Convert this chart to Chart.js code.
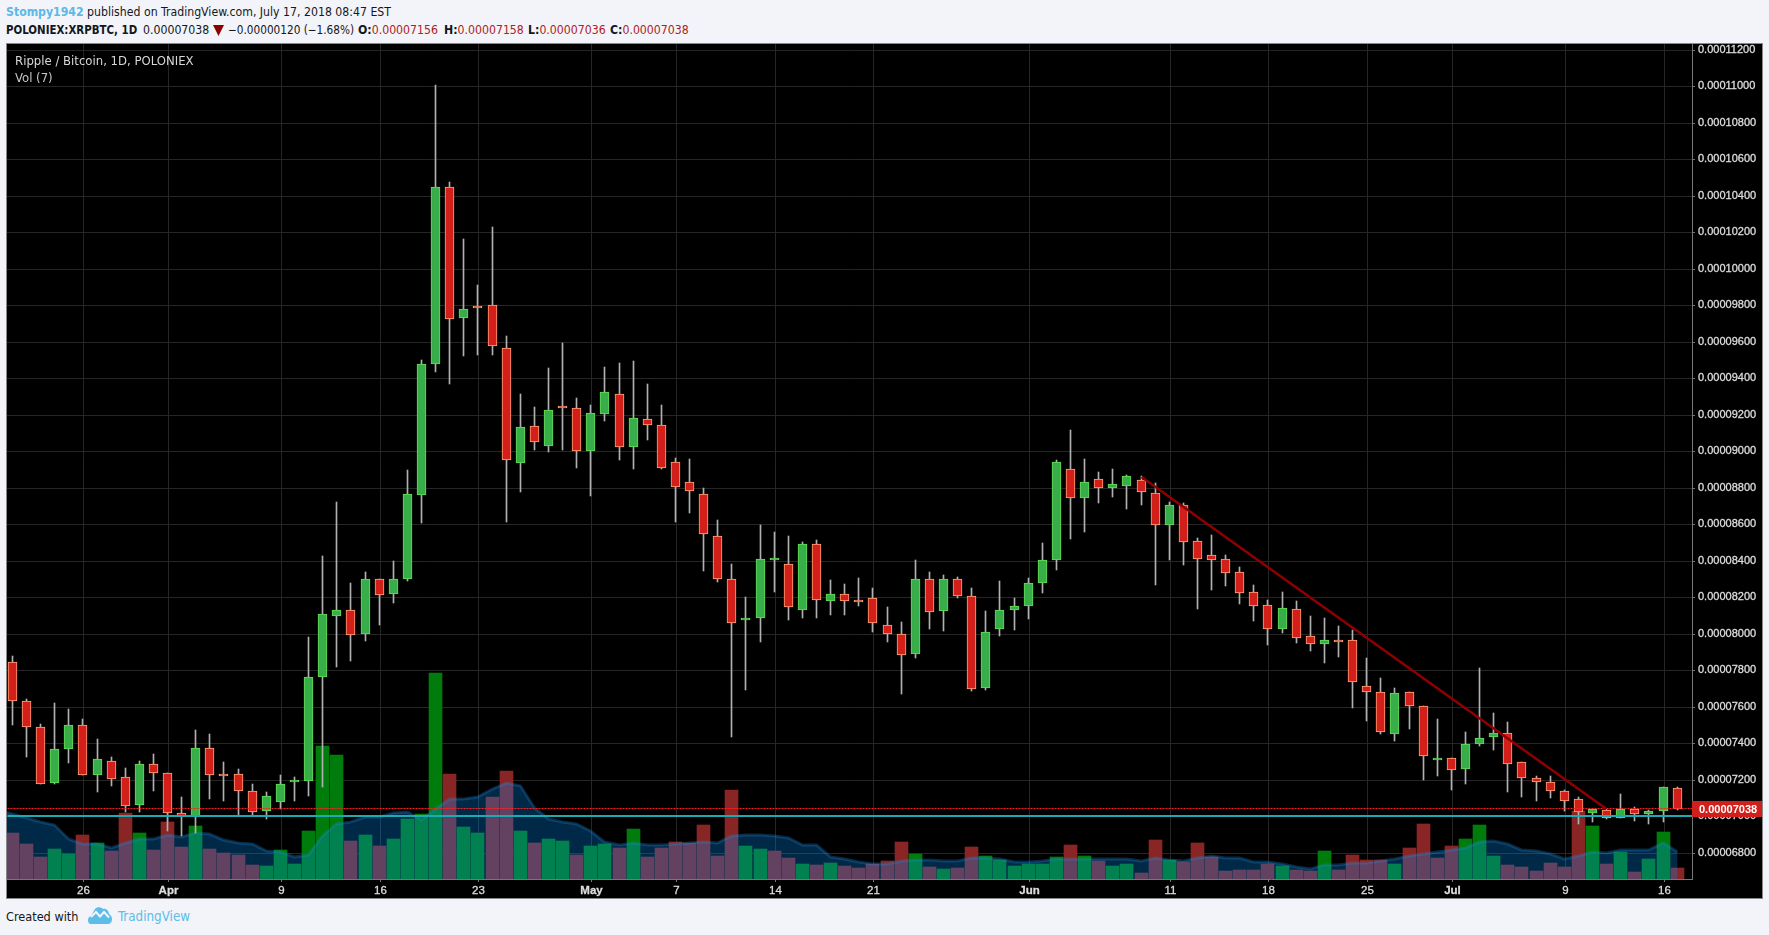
<!DOCTYPE html>
<html>
<head>
<meta charset="utf-8">
<title>XRPBTC 1D</title>
<script src="https://cdn.jsdelivr.net/npm/chart.js@4/dist/chart.umd.js"></script>
<style>
    html, body { margin: 0; padding: 0; background: #f2f4f9; overflow: hidden; }
    body { width: 1769px; height: 935px; position: relative; font-family: "DejaVu Sans Condensed", "Liberation Sans", Arial, sans-serif; color: #131722; }
    .abs { position: absolute; white-space: pre; }
    .head { font-size: 12.2px; line-height: 16px; }
    .author { color: #5cb8e6; font-weight: bold; }
    .dn { color: #b02020; }
    #panel { position: absolute; left: 6px; top: 43px; width: 1755px; height: 854px; border: 1px solid #888; border-top-width: 1px; background: #000; }
    #chart { position: absolute; left: 0; top: 0; display: block; }
    .overlay { color: #d8d8d8; font-size: 13px; line-height: 16px; }
</style>
</head>
<body>
<div class="abs head" style="left:6px;top:4px"><span class="author">Stompy1942</span> published on TradingView.com, July 17, 2018 08:47 EST</div>
<div class="abs head" style="left:6px;top:22px;font-weight:bold;font-size:11.4px">POLONIEX:XRPBTC, 1D</div>
<div class="abs head" style="left:143px;top:22px">0.00007038</div>
<svg class="abs" style="left:213px;top:25px" width="11" height="11"><path d="M0 0H11L5.5 11Z" fill="#8b0000"/></svg>
<div class="abs head" style="left:228px;top:22px;font-size:11.7px">&minus;0.00000120 (&minus;1.68%)</div>
<div class="abs head" style="left:358px;top:22px"><b>O:</b><span class="dn">0.00007156</span></div>
<div class="abs head" style="left:444px;top:22px"><b>H:</b><span class="dn">0.00007158</span></div>
<div class="abs head" style="left:528px;top:22px"><b>L:</b><span class="dn">0.00007036</span></div>
<div class="abs head" style="left:610px;top:22px"><b>C:</b><span class="dn">0.00007038</span></div>

<div id="panel">
    <canvas id="chart" width="1755" height="854"></canvas>
    <div class="abs overlay" style="left:8px;top:9px">Ripple / Bitcoin, 1D, POLONIEX</div>
    <div class="abs overlay" style="left:8px;top:26px;color:#c4c4c4">Vol (7)</div>
</div>

<div class="abs" style="left:6px;top:909px;font-size:12.6px;line-height:16px">Created with</div>
<svg class="abs" style="left:88px;top:907px" width="24" height="17" viewBox="0 0 24 17">
    <path d="M3 17C0.5 17 0 14.5 0 13C0 11 1.5 9.5 3 9L7 2C9 -0.5 13 0 15 2C18 1 21 4 21 7C23 8 24 10 24 12.5C24 15 22 17 20 17Z" fill="#5cbde8"/>
    <path d="M3 10L8 5L12 9.5L16 5L21 10.5" fill="none" stroke="#f2f4f9" stroke-width="2"/>
</svg>
<div class="abs" style="left:118px;top:909px;font-size:13.3px;line-height:16px;color:#5cbde8">TradingView</div>

<script>
// prices are in satoshi (1e-8 BTC), one entry per daily candle from Mar 21
const opens = [
    7846, 7632, 7490, 7180, 7367, 7500, 7225, 7303, 7215, 7060,
    7286, 7238, 7017, 6996, 7374, 7221, 7232, 7138, 7026, 7077,
    7186, 7191, 7761, 8096, 8130, 7997, 8300, 8216, 8298, 8762,
    9476, 10450, 9729, 9787, 9800, 9566, 8938, 9137, 9031, 9238,
    9236, 9000, 9203, 9313, 9022, 9176, 9143, 8940, 8830, 8764,
    8533, 8297, 8075, 8086, 8405, 8384, 8130, 8494, 8179, 8220,
    8187, 8198, 8049, 8000, 7888, 8302, 8124, 8297, 8209, 7702,
    8026, 8130, 8152, 8278, 8405, 8901, 8745, 8846, 8800, 8811,
    8840, 8770, 8598, 8704, 8507, 8430, 8408, 8336, 8227, 8155,
    8027, 8133, 7985, 7945, 7968, 7968, 7716, 7683, 7450, 7683,
    7606, 7308, 7320, 7258, 7395, 7434, 7458, 7298, 7211, 7189,
    7139, 7095, 7016, 7035, 6991, 7040, 7011, 7027, 7156
];
const highs = [
    7876, 7640, 7505, 7623, 7589, 7535, 7425, 7327, 7264, 7305,
    7342, 7238, 7107, 7470, 7453, 7299, 7260, 7178, 7135, 7226,
    7215, 7984, 8424, 8719, 8276, 8336, 8300, 8401, 8895, 9502,
    11006, 10474, 10161, 9908, 10227, 9633, 9315, 9243, 9458, 9595,
    9293, 9254, 9463, 9485, 9496, 9370, 9254, 8963, 8958, 8799,
    8622, 8381, 8200, 8595, 8557, 8535, 8500, 8513, 8293, 8271,
    8304, 8249, 8145, 8062, 8403, 8337, 8320, 8309, 8249, 8123,
    8287, 8194, 8304, 8496, 8952, 9117, 8957, 8886, 8903, 8870,
    8865, 8827, 8723, 8717, 8525, 8541, 8432, 8366, 8267, 8184,
    8228, 8179, 8097, 8086, 8042, 8020, 7866, 7756, 7701, 7683,
    7606, 7531, 7320, 7460, 7811, 7564, 7514, 7298, 7223, 7223,
    7146, 7108, 7040, 7038, 7124, 7053, 7035, 7161, 7158
];
const lows = [
    7501, 7322, 7176, 7174, 7294, 7225, 7131, 7168, 7024, 7021,
    7140, 6921, 6893, 6906, 7094, 7082, 7009, 7006, 6983, 7039,
    7086, 7109, 7159, 7820, 7853, 7958, 8050, 8166, 8289, 8608,
    9432, 9366, 9520, 9525, 9525, 8614, 8778, 9009, 8998, 9004,
    8910, 8757, 9168, 8954, 8905, 9064, 8905, 8614, 8663, 8342,
    8284, 7436, 7691, 7954, 8229, 8075, 8086, 8086, 8103, 8103,
    8152, 8009, 7954, 7669, 7866, 8026, 8015, 8196, 7685, 7691,
    7987, 8020, 8081, 8223, 8350, 8518, 8557, 8716, 8749, 8683,
    8705, 8267, 8404, 8378, 8135, 8239, 8261, 8163, 8069, 7937,
    8003, 7948, 7904, 7838, 7871, 7591, 7520, 7450, 7410, 7476,
    7201, 7223, 7141, 7174, 7384, 7361, 7132, 7104, 7082, 7099,
    7031, 6956, 6967, 6984, 6989, 6976, 6956, 6971, 7036
];
const closes = [
    7632, 7488, 7176, 7369, 7500, 7225, 7314, 7202, 7054, 7286,
    7236, 7017, 7000, 7374, 7225, 7220, 7137, 7021, 7110, 7176,
    7188, 7763, 8110, 8130, 7992, 8300, 8211, 8300, 8763, 9478,
    10450, 9725, 9780, 9786, 9577, 8951, 9132, 9049, 9225, 9237,
    9000, 9209, 9324, 9022, 9181, 9141, 8910, 8802, 8784, 8544,
    8300, 8059, 8088, 8412, 8407, 8146, 8494, 8185, 8220, 8179,
    8174, 8059, 7998, 7883, 8297, 8119, 8297, 8207, 7696, 8011,
    8132, 8154, 8280, 8406, 8939, 8745, 8829, 8800, 8818, 8862,
    8778, 8593, 8704, 8505, 8411, 8406, 8335, 8225, 8153, 8027,
    8139, 7978, 7945, 7968, 7956, 7736, 7681, 7461, 7677, 7604,
    7330, 7320, 7253, 7397, 7430, 7458, 7286, 7211, 7187, 7139,
    7084, 7024, 7038, 6991, 7040, 7013, 7029, 7158, 7038
];
const volumes = [
    46, 35, 22, 30, 25, 44, 36, 28, 66, 46,
    29, 57, 32, 53, 30, 26, 24, 14, 13, 29,
    15, 48, 133, 124, 38, 44, 33, 40, 60, 65,
    206, 105, 52, 46, 82, 108, 48, 36, 40, 38,
    24, 33, 35, 31, 50, 22, 31, 37, 36, 54,
    23, 89, 33, 30, 28, 21, 15, 14, 16, 13,
    11, 15, 18, 37, 25, 12, 10, 11, 32, 23,
    19, 13, 15, 15, 22, 34, 23, 18, 13, 15,
    6, 39, 19, 17, 36, 22, 8, 9, 9, 15,
    13, 9, 8, 28, 9, 24, 19, 19, 15, 31,
    55, 21, 33, 40, 54, 23, 14, 12, 8, 16,
    12, 68, 53, 15, 27, 7, 20, 47, 11
];
const volumeUp = [
    0, 0, 0, 1, 1, 0, 1, 0, 0, 1,
    0, 0, 0, 1, 0, 0, 0, 0, 1, 1,
    1, 1, 1, 1, 0, 1, 0, 1, 1, 1,
    1, 0, 1, 1, 0, 0, 1, 0, 1, 1,
    0, 1, 1, 0, 1, 0, 0, 0, 0, 0,
    0, 0, 1, 1, 0, 0, 1, 0, 1, 0,
    0, 0, 0, 0, 1, 0, 1, 0, 0, 1,
    1, 1, 1, 1, 1, 0, 1, 0, 1, 1,
    0, 0, 1, 0, 0, 0, 0, 0, 0, 0,
    1, 0, 0, 1, 0, 0, 0, 0, 1, 0,
    0, 0, 0, 1, 1, 1, 0, 0, 0, 0,
    0, 0, 1, 0, 1, 0, 1, 1, 0
];
// Vol (7) average; the first value belongs to the day before the visible range
const volumeMa = [
    68, 65, 61, 57, 54, 40, 35, 35, 31, 36, 40,
    40, 44, 42, 46, 45, 39, 36, 35, 28, 27,
    22, 24, 43, 55, 57, 62, 62, 66, 67, 59,
    70, 80, 80, 82, 90, 96, 93, 71, 60, 57,
    55, 48, 37, 34, 36, 34, 34, 35, 36, 37,
    36, 43, 44, 44, 43, 41, 34, 34, 22, 20,
    17, 15, 15, 18, 19, 19, 18, 18, 21, 21,
    20, 17, 17, 18, 20, 20, 20, 20, 20, 20,
    18, 21, 19, 18, 21, 23, 21, 21, 17, 17,
    15, 12, 10, 14, 14, 16, 16, 18, 20, 23,
    25, 27, 29, 31, 37, 38, 35, 29, 28, 25,
    20, 23, 27, 26, 29, 29, 29, 36, 27
];

const tickDays = [5, 11, 19, 26, 33, 41, 47, 54, 61, 72, 82, 89, 96, 102, 110, 117];
const tickLabels = ['26', 'Apr', '9', '16', '23', 'May', '7', '14', '21', 'Jun', '11', '18', '25', 'Jul', '9', '16'];
const monthLabels = ['Apr', 'May', 'Jun', 'Jul'];
const priceTicks = [6800, 7000, 7200, 7400, 7600, 7800, 8000, 8200, 8400, 8600, 8800, 9000, 9200, 9400, 9600, 9800, 10000, 10200, 10400, 10600, 10800, 11000, 11200];

const lastPrice = 7038;
const supportLevel = 7000;
const trendDays = [80, 113];
const trendPrices = [8860, 7040];

const dayMin = -0.345;
const dayMax = 119.09;
const priceMin = 6656;
const priceMax = 11231;
const volumeMax = 835;
const gridShift = 0.07; // grid lines sit a hair right of the candle centres

// Linear scale that lands on whole pixels, so 1px wicks stay sharp
class SnapScale extends Chart.LinearScale {
    getPixelForValue(value) {
        return Math.round(super.getPixelForValue(value)) + (this.options.snap || 0);
    }
}
SnapScale.id = 'snapLinear';
SnapScale.defaults = Chart.LinearScale.defaults;
Chart.register(SnapScale);

const days = opens.map((v, i) => i);
const formatPrice = v => (v / 1e8).toFixed(8);

// Current price tag on the right axis
const lastPriceTag = {
    id: 'lastPriceTag',
    afterDraw(chart) {
        const y = chart.scales.y.getPixelForValue(lastPrice);
        const right = chart.chartArea.right;
        const c = chart.ctx;
        c.save();
        c.fillStyle = '#d1201b';
        c.fillRect(right, y - 8, chart.width - right, 16);
        c.fillStyle = '#ffffff';
        c.font = 'bold 11px "Liberation Sans"';
        c.textBaseline = 'middle';
        c.textAlign = 'left';
        c.fillText(formatPrice(lastPrice), right + 7, y + 1);
        c.restore();
    }
};

new Chart(document.getElementById('chart'), {
    type: 'bar',
    plugins: [lastPriceTag],
    data: {
        datasets: [
            {
                type: 'line',
                label: 'Trend',
                data: trendDays.map((d, i) => ({ x: d, y: trendPrices[i] })),
                borderColor: '#8f0000',
                borderWidth: 2.5,
                pointRadius: 0,
                yAxisID: 'y',
                order: 0
            },
            {
                type: 'line',
                label: 'Last',
                data: [{ x: dayMin, y: lastPrice }, { x: dayMax, y: lastPrice }],
                borderColor: '#ff2020',
                borderWidth: 1,
                borderDash: [2, 1],
                pointRadius: 0,
                yAxisID: 'yLine',
                order: 1
            },
            {
                type: 'line',
                label: 'Level',
                data: [{ x: dayMin, y: supportLevel }, { x: dayMax, y: supportLevel }],
                borderColor: '#1cabb3',
                borderWidth: 2,
                pointRadius: 0,
                yAxisID: 'y',
                order: 2
            },
            {
                label: 'Body',
                data: days.map(i => ({ x: i, y: [Math.min(opens[i], closes[i]), Math.max(opens[i], closes[i])] })),
                backgroundColor: days.map(i => closes[i] < opens[i] ? '#d21f1a' : '#38ae4a'),
                borderColor: days.map(i => closes[i] < opens[i] ? '#ffa67a' : '#66dd55'),
                borderWidth: 1,
                borderSkipped: false,
                barThickness: 9,
                minBarLength: 2,
                grouped: false,
                yAxisID: 'y',
                order: 3
            },
            {
                label: 'Wick',
                data: days.map(i => ({ x: i, y: [lows[i], highs[i]] })),
                backgroundColor: '#b0b0b0',
                barThickness: 1,
                grouped: false,
                yAxisID: 'y',
                order: 4
            },
            {
                type: 'line',
                label: 'Vol MA',
                data: volumeMa.map((v, i) => ({ x: i - 1, y: v })),
                borderColor: 'rgba(30, 140, 220, 0.3)',
                backgroundColor: 'rgba(0, 143, 255, 0.28)',
                borderWidth: 3,
                pointRadius: 0,
                fill: 'origin',
                yAxisID: 'yVol',
                order: 5
            },
            {
                label: 'Volume',
                data: days.map(i => ({ x: i, y: volumes[i] })),
                backgroundColor: days.map(i => volumeUp[i] ? '#007c0c' : '#892525'),
                barThickness: 13,
                grouped: false,
                yAxisID: 'yVol',
                order: 6
            }
        ]
    },
    options: {
        responsive: false,
        animation: false,
        layout: { padding: 0 },
        plugins: { legend: { display: false }, tooltip: { enabled: false } },
        scales: {
            x: {
                type: 'snapLinear',
                snap: 0.5,
                offset: false,
                min: dayMin,
                max: dayMax,
                afterBuildTicks: scale => { scale.ticks = tickDays.map(d => ({ value: d + gridShift })); },
                afterFit: scale => { scale.height = 19; scale.paddingLeft = 0; scale.paddingRight = 0; },
                grid: { offset: false, color: '#262626', tickLength: 3, tickColor: '#777' },
                border: { color: '#777' },
                ticks: {
                    autoSkip: false,
                    maxRotation: 0,
                    padding: 2,
                    color: '#dddddd',
                    textStrokeColor: '#dddddd',
                    textStrokeWidth: 0.3,
                    font: ctx => ({
                        family: '"Liberation Sans"',
                        size: 11.5,
                        weight: ctx.tick && monthLabels.includes(tickLabels[tickDays.indexOf(Math.round(ctx.tick.value))]) ? 'bold' : 'normal'
                    }),
                    callback: value => tickLabels[tickDays.indexOf(Math.round(value))]
                }
            },
            y: {
                type: 'snapLinear',
                position: 'right',
                min: priceMin,
                max: priceMax,
                afterBuildTicks: scale => { scale.ticks = priceTicks.map(value => ({ value })); },
                afterFit: scale => { scale.width = 70; scale.paddingTop = 0; scale.paddingBottom = 0; },
                grid: { color: '#262626', tickLength: 3, tickColor: '#777' },
                border: { color: '#777' },
                ticks: {
                    autoSkip: false,
                    padding: 3,
                    color: '#dddddd',
                    textStrokeColor: '#dddddd',
                    textStrokeWidth: 0.3,
                    font: { family: '"Liberation Sans"', size: 11 },
                    callback: value => formatPrice(value)
                }
            },
            yLine: {
                type: 'snapLinear',
                snap: -0.5,
                display: false,
                min: priceMin,
                max: priceMax
            },
            yVol: {
                type: 'snapLinear',
                display: false,
                min: 0,
                max: volumeMax
            }
        }
    }
});
</script>
</body>
</html>
